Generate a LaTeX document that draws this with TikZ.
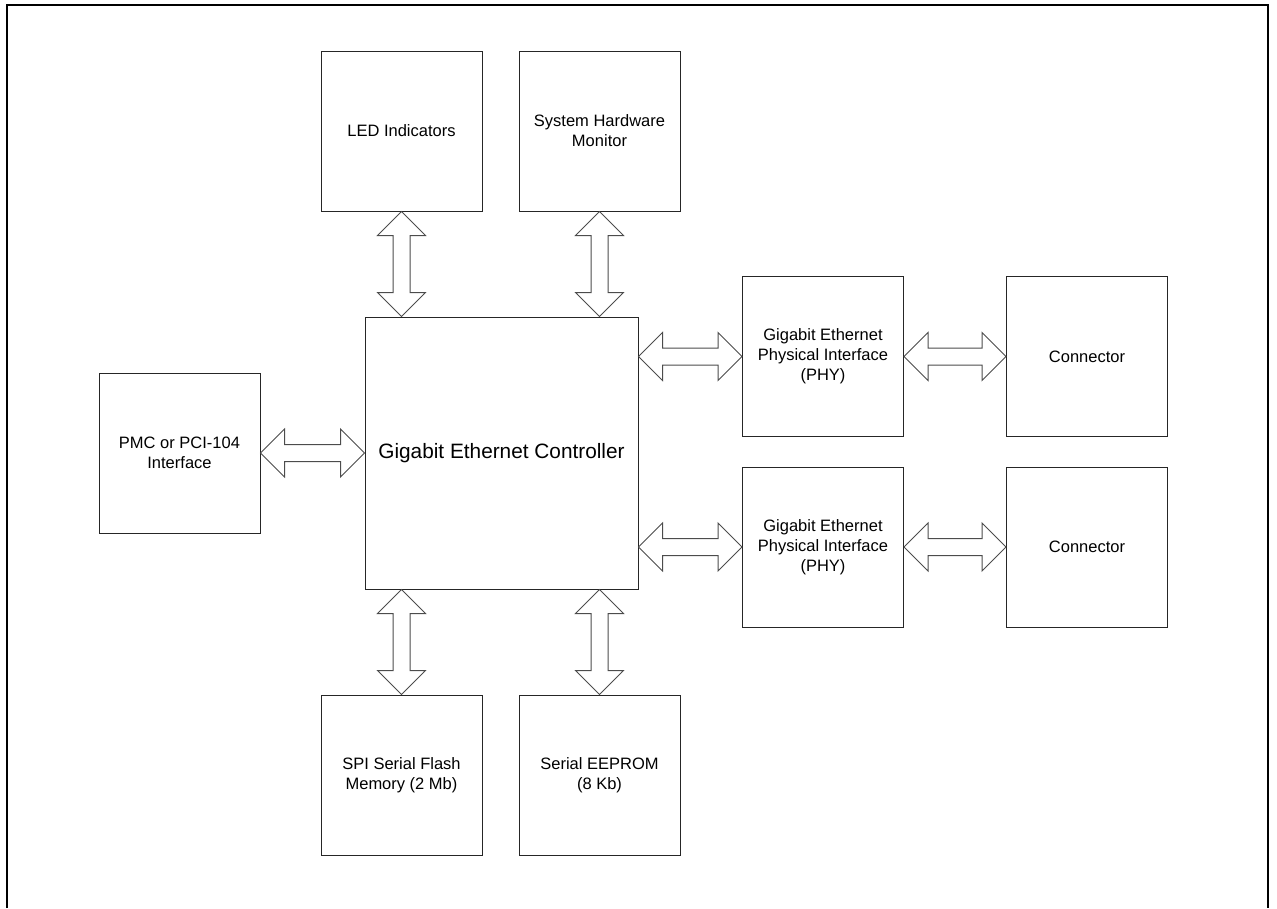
\documentclass[tikz,border=0pt]{standalone}
\usepackage{fontspec}
\setmainfont{Liberation Sans}
\usetikzlibrary{calc}

% hollow two-headed block arrow from tip #1 to tip #2
\newcommand\dblarrow[2]{%
  \draw[arrowline] (#1)
    -- ($(#1)!24pt!(#2)!24pt!90:(#2)$) -- ($(#1)!24pt!(#2)!8.5pt!90:(#2)$)
    -- ($(#2)!24pt!(#1)!8.5pt!-90:(#1)$) -- ($(#2)!24pt!(#1)!24pt!-90:(#1)$)
    -- (#2)
    -- ($(#2)!24pt!(#1)!24pt!90:(#1)$) -- ($(#2)!24pt!(#1)!8.5pt!90:(#1)$)
    -- ($(#1)!24pt!(#2)!8.5pt!-90:(#2)$) -- ($(#1)!24pt!(#2)!24pt!-90:(#2)$)
    -- cycle;}

\begin{document}
\begin{tikzpicture}[x=1pt,y=-1pt,
    block/.style={draw=black!85, line width=1pt, inner sep=0pt, align=center,
      minimum width=161pt, minimum height=160pt,
      font=\fontsize{16.5}{20}\selectfont},
    arrowline/.style={draw=black!70, line width=1pt, line join=miter}]
  \useasboundingbox (0,0) rectangle (1277,908);
  \draw[line width=2pt] (6.5,908) -- (6.5,4.5) -- (1268,4.5) -- (1268,908);

  \node[block, minimum width=273pt, minimum height=272pt,
    font=\fontsize{20.8}{25}\selectfont] (ctrl) at (501.5,453) {Gigabit Ethernet Controller};
  \node[block] (led) at (401.5,131) {LED Indicators};
  \node[block] (shm) at (599.5,131) {System Hardware\\Monitor};
  \node[block] (pmc) at (179.5,453) {PMC or PCI-104\\Interface};
  \node[block] (phya) at (823,356.5) {Gigabit Ethernet\\Physical Interface\\(PHY)};
  \node[block] (phyb) at (823,547) {Gigabit Ethernet\\Physical Interface\\(PHY)};
  \node[block] (cona) at (1087,356.5) {Connector};
  \node[block] (conb) at (1087,547) {Connector};
  \node[block] (spi) at (401.5,775) {SPI Serial Flash\\Memory (2 Mb)};
  \node[block] (eep) at (599.5,775) {Serial EEPROM\\(8 Kb)};

  \coordinate (ledend) at (led.south |- ctrl.north);
  \coordinate (shmend) at (shm.south |- ctrl.north);
  \coordinate (spiend) at (spi.north |- ctrl.south);
  \coordinate (eepend) at (eep.north |- ctrl.south);
  \coordinate (pmcend) at (pmc.east -| ctrl.west);
  \coordinate (phyaend) at (phya.west -| ctrl.east);
  \coordinate (phybend) at (phyb.west -| ctrl.east);

  \dblarrow{led.south}{ledend}
  \dblarrow{shm.south}{shmend}
  \dblarrow{spiend}{spi.north}
  \dblarrow{eepend}{eep.north}
  \dblarrow{pmc.east}{pmcend}
  \dblarrow{phyaend}{phya.west}
  \dblarrow{phybend}{phyb.west}
  \dblarrow{phya.east}{cona.west}
  \dblarrow{phyb.east}{conb.west}
\end{tikzpicture}
\end{document}
